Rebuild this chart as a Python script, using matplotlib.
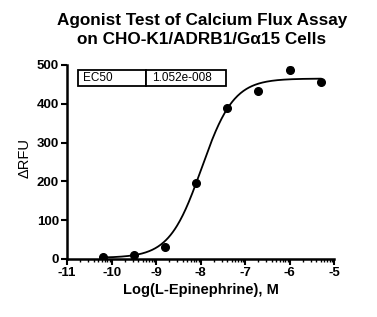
import numpy as np
import matplotlib
matplotlib.use("Agg")
import matplotlib.pyplot as plt

plt.rcParams['font.family'] = ['Liberation Sans', 'DejaVu Sans']

log_conc = [-10.2, -9.5, -8.8, -8.1, -7.4, -6.7, -6.0, -5.3]
rfu = [4, 10, 32, 197, 390, 432, 488, 456]
rfu_err = [0, 0, 0, 0, 0, 0, 7, 0]
ec50 = 1.052e-8
bottom, top, hill = 3.0, 465.0, 1.2
xticks = [-11, -10, -9, -8, -7, -6, -5]
yticks = [0, 100, 200, 300, 400, 500]
title = "Agonist Test of Calcium Flux Assay\non CHO-K1/ADRB1/G\u03b115 Cells"

fig = plt.figure(figsize=(3.77, 3.17), dpi=100)
ax = fig.add_axes([0.178, 0.183, 0.708, 0.612])

xs = np.linspace(-10.2, -5.3, 300)
ys = bottom + (top - bottom) / (1 + 10 ** ((np.log10(ec50) - xs) * hill))
ax.plot(xs, ys, color='black', lw=1.3)
ax.errorbar(log_conc, rfu, yerr=rfu_err, fmt='o', color='black', ms=5.5,
            capsize=2.5, elinewidth=1, capthick=1)

ax.set_xlim(-11, -5)
ax.set_ylim(0, 500)
ax.set_xticks(xticks)
ax.set_xticklabels([str(t) for t in xticks], fontsize=9.5, fontweight='bold')
ax.set_yticks(yticks)
ax.set_yticklabels([str(t) for t in yticks], fontsize=9.5, fontweight='bold')
minor = [d + np.log10(k) for d in range(-11, -5) for k in range(2, 10)]
ax.set_xticks(minor, minor=True)
ax.tick_params(axis='both', which='major', length=4, width=1.5, direction='out', pad=2)
ax.tick_params(axis='x', which='minor', length=2, width=1)
for s in ['top', 'right']:
    ax.spines[s].set_visible(False)
for s in ['left', 'bottom']:
    ax.spines[s].set_linewidth(1.8)
ax.set_xlabel("Log(L-Epinephrine), M", fontsize=10.5, fontweight='bold', labelpad=3)
ax.set_ylabel("\u0394RFU", fontsize=10.5, labelpad=6)
ax.yaxis.set_label_coords(-0.134, 0.52)
fig.text(0.535, 0.958, title, fontsize=12.3, fontweight='bold', ha='center', va='top',
         linespacing=1.3)

tbl = ax.table(cellText=[["EC50", "1.052e-008"]], colWidths=[0.255, 0.3],
               cellLoc='left', bbox=[0.04, 0.89, 0.555, 0.085])
tbl.auto_set_font_size(False)
for (r, c), cell in tbl.get_celld().items():
    cell.set_linewidth(1.3)
    cell.get_text().set_fontsize(8.5)
    cell.PAD = 0.08

fig.savefig("out.png", dpi=100)
